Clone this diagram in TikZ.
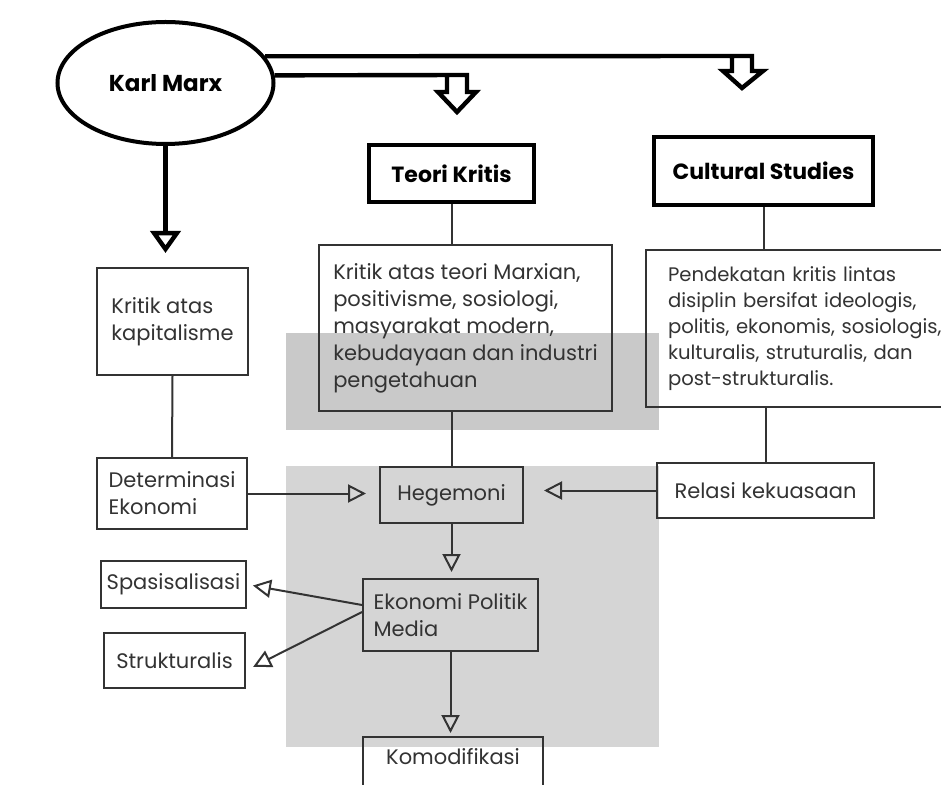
\documentclass[tikz,border=0pt]{standalone}
\usepackage{fontspec}
\setmainfont{Poppins}
\usetikzlibrary{arrows.meta,shapes.geometric}
\definecolor{ink}{HTML}{333333}
\definecolor{shadeA}{HTML}{C9C9C9}
\definecolor{shadeB}{HTML}{D5D5D5}

\begin{document}
\begin{tikzpicture}
  [x=0.5pt,y=-0.5pt,
   plain box/.style={rectangle,draw=ink,line width=1pt,text=ink,inner sep=0pt,align=left,font=\fontsize{10.5}{13.5}\selectfont},
   head box/.style={rectangle,draw=black,line width=2pt,inner sep=0pt,font=\bfseries\fontsize{11}{13}\selectfont},
   fat line/.style={line width=2.2pt,line join=miter},
   thin line/.style={draw=ink,line width=1pt},
   thin arrow/.style={thin line,-{Triangle[open,length=9pt,width=9pt]}}]
  \useasboundingbox (0,0) rectangle (941,785);
  \clip (0,0) rectangle (941,785);
  \fill[white] (0,0) rectangle (941,785);
  \fill[shadeA] (286,333) rectangle (659,430);
  \fill[shadeB] (286,466) rectangle (659,747);

  \node[ellipse,draw,line width=2pt,minimum width=108pt,minimum height=61pt,font=\bfseries\fontsize{11.5}{13}\selectfont] (km) at (165.5,83) {Karl Marx};
  \node[head box,minimum width=82.5pt,minimum height=28.5pt] (tk) at (451.5,173.5) {Teori Kritis};
  \node[head box,minimum width=109.5pt,minimum height=34pt] (cs) at (763.5,171) {Cultural Studies};

  \node[plain box,minimum width=75.5pt,minimum height=53.5pt] (kk) at (172.5,321.5) {Kritik atas\\kapitalisme};
  \node[plain box,minimum width=146.5pt,minimum height=83pt] (mid) at (465.5,328) {Kritik atas teori Marxian,\\positivisme, sosiologi,\\masyarakat modern,\\kebudayaan dan industri\\pengetahuan};
  \node[plain box,anchor=west,text width=150pt,inner xsep=11pt,minimum height=78.5pt,font=\fontsize{9.8}{13}\selectfont] (pd) at (645,328.5) {Pendekatan kritis lintas\\disiplin bersifat ideologis,\\politis, ekonomis, sosiologis,\\kulturalis, struturalis, dan\\post-strukturalis.};

  \node[plain box,minimum width=75pt,minimum height=35.5pt] (de) at (172,493.5) {Determinasi\\Ekonomi};
  \node[plain box,minimum width=71.5pt,minimum height=28pt] (heg) at (451.5,495) {Hegemoni};
  \node[plain box,minimum width=108.5pt,minimum height=27.5pt] (rk) at (765.5,490.5) {Relasi kekuasaan};
  \node[plain box,minimum width=87.5pt,minimum height=36pt] (epm) at (450.5,615) {Ekonomi Politik\\Media};
  \node[plain box,minimum width=72.5pt,minimum height=23.5pt] (sp) at (173.5,584.5) {Spasisalisasi};
  \node[plain box,minimum width=70.5pt,minimum height=27.5pt] (st) at (174.5,660.5) {Strukturalis};
  \node[plain box,anchor=north,minimum width=90pt,inner ysep=4.5pt,text height=9pt,text depth=30pt] (komo) at (453,736) {Komodifikasi};

  \draw[fat line] (km.15.6) -- (752,56) -- ++(0,15) -- ++(11,0) -- ++(-21,17) -- ++(-19,-17) -- ++(9,0) -- ++(0,-13);
  \draw[fat line] (km.4.3) -- (467,75) -- ++(0,17) -- ++(9,0) -- ++(-19,20) -- ++(-19,-20) -- ++(9,0) -- ++(0,-15);
  \draw[fat line,-{Triangle[open,length=11pt,width=15pt]},shorten >=7pt] (km.south) -- (km.south |- kk.north);

  \draw[thin line] (tk.south) -- (tk.south |- mid.north);
  \draw[thin line] (cs.south) -- (cs.south |- pd.north);
  \draw[thin line] (kk.south) -- (de.north);
  \draw[thin line] (heg.north |- mid.south) -- (heg.north);
  \draw[thin line] (rk.north |- pd.south) -- (rk.north);

  \draw[thin arrow,shorten >=6.5pt] (de.east) -- (de.east -| heg.west);
  \draw[thin arrow,shorten >=10pt] (rk.west) -- (rk.west -| heg.east);
  \draw[thin arrow,shorten >=3pt] (heg.south) -- (heg.south |- epm.north);
  \draw[thin arrow,shorten >=3pt] ([yshift=5pt]epm.west) -- (sp.east);
  \draw[thin arrow,shorten >=4pt] ([yshift=1.5pt]epm.west) -- ([yshift=-5pt]st.east);
  \draw[thin arrow,shorten >=1.5pt] (epm.south) -- (epm.south |- komo.north);
\end{tikzpicture}
\end{document}
